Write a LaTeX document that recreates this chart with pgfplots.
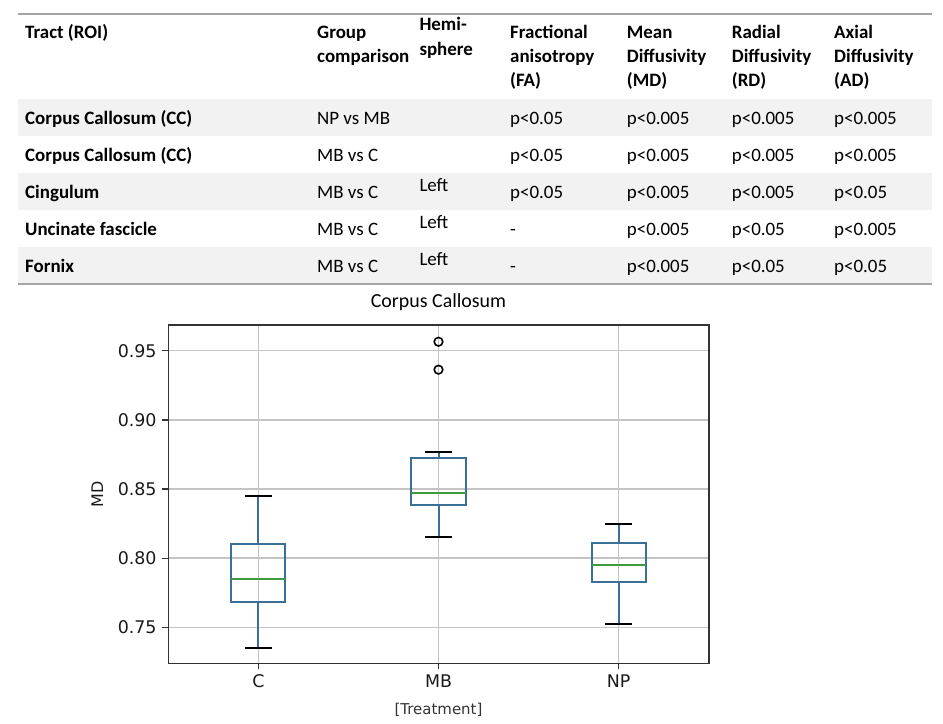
\documentclass[border=0pt]{standalone}
\usepackage{fontspec}
\setmainfont{Carlito}
\newfontfamily\dejavu{DejaVu Sans}
\usepackage{pgfplots}
\pgfplotsset{compat=1.18}
\usepgfplotslibrary{statistics}

\definecolor{rulegray}{HTML}{A5A5A5}
\definecolor{rowgray}{HTML}{F2F2F2}
\definecolor{mplblue}{HTML}{3A6F98}
\definecolor{mplgreen}{HTML}{3E9A3E}
\definecolor{gridgray}{HTML}{C4C4C4}
\definecolor{framegray}{HTML}{333333}

\newcommand{\tabfont}{\fontsize{19}{24}\selectfont}

% whiskers in blue, caps in black (pandas style)
\pgfplotsset{
  boxplot/draw/lower whisker/.code={%
    \draw[mplblue,line width=2bp]
      (boxplot box cs:\pgfplotsboxplotvalue{lower whisker},0.5) --
      (boxplot box cs:\pgfplotsboxplotvalue{lower quartile},0.5);
    \draw[black,line width=2bp]
      (boxplot whisker cs:\pgfplotsboxplotvalue{lower whisker},0) --
      (boxplot whisker cs:\pgfplotsboxplotvalue{lower whisker},1);
  },
  boxplot/draw/upper whisker/.code={%
    \draw[mplblue,line width=2bp]
      (boxplot box cs:\pgfplotsboxplotvalue{upper quartile},0.5) --
      (boxplot box cs:\pgfplotsboxplotvalue{upper whisker},0.5);
    \draw[black,line width=2bp]
      (boxplot whisker cs:\pgfplotsboxplotvalue{upper whisker},0) --
      (boxplot whisker cs:\pgfplotsboxplotvalue{upper whisker},1);
  },
}

\begin{document}
\begin{tikzpicture}
\useasboundingbox (0,0) rectangle (943bp,-724bp);

\begin{scope}[x=1bp,y=-1bp]
  % table background and rules
  \fill[rowgray] (18,99) rectangle (932,136);
  \fill[rowgray] (18,173) rectangle (932,210);
  \fill[rowgray] (18,247) rectangle (932,284);
  \draw[rulegray,line width=2bp] (18,14) -- (932,14);
  \draw[rulegray,line width=2bp] (18,284) -- (932,284);

  \begin{scope}[every node/.style={anchor=base west,inner sep=0pt,font=\tabfont}]
    % header
    \node at (25,38) {\bfseries Tract (ROI)};
    \node at (317,38) {\bfseries Group};
    \node at (317,62.3) {\bfseries comparison};
    \node at (419.3,30.7) {\bfseries Hemi-};
    \node at (419.3,55) {\bfseries sphere};
    \node at (510,38) {\bfseries Fractional};
    \node at (510,62.3) {\bfseries anisotropy};
    \node at (510,86.8) {\bfseries (FA)};
    \node at (626.7,38) {\bfseries Mean};
    \node at (626.7,62.3) {\bfseries Diffusivity};
    \node at (626.7,86.8) {\bfseries (MD)};
    \node at (731.7,38) {\bfseries Radial};
    \node at (731.7,62.3) {\bfseries Diffusivity};
    \node at (731.7,86.8) {\bfseries (RD)};
    \node at (834,38) {\bfseries Axial};
    \node at (834,62.3) {\bfseries Diffusivity};
    \node at (834,86.8) {\bfseries (AD)};
    % row 1
    \node at (25,124.3) {\bfseries Corpus Callosum (CC)};
    \node at (317,124.3) {NP vs MB};
    \node at (510,124.3) {p<0.05};
    \node at (626.7,124.3) {p<0.005};
    \node at (731.7,124.3) {p<0.005};
    \node at (834,124.3) {p<0.005};
    % row 2
    \node at (25,161.3) {\bfseries Corpus Callosum (CC)};
    \node at (317,161.3) {MB vs C};
    \node at (510,161.3) {p<0.05};
    \node at (626.7,161.3) {p<0.005};
    \node at (731.7,161.3) {p<0.005};
    \node at (834,161.3) {p<0.005};
    % row 3
    \node at (25,198.3) {\bfseries Cingulum};
    \node at (317,198.3) {MB vs C};
    \node at (419.3,191) {Left};
    \node at (510,198.3) {p<0.05};
    \node at (626.7,198.3) {p<0.005};
    \node at (731.7,198.3) {p<0.005};
    \node at (834,198.3) {p<0.05};
    % row 4
    \node at (25,235.3) {\bfseries Uncinate fascicle};
    \node at (317,235.3) {MB vs C};
    \node at (419.3,228) {Left};
    \node at (510,235.3) {-};
    \node at (626.7,235.3) {p<0.005};
    \node at (731.7,235.3) {p<0.05};
    \node at (834,235.3) {p<0.005};
    % row 5
    \node at (25,272.3) {\bfseries Fornix};
    \node at (317,272.3) {MB vs C};
    \node at (419.3,265) {Left};
    \node at (510,272.3) {-};
    \node at (626.7,272.3) {p<0.005};
    \node at (731.7,272.3) {p<0.05};
    \node at (834,272.3) {p<0.05};
  \end{scope}
\end{scope}

\begin{axis}[
    at={(168.3bp,-663.3bp)}, anchor=south west,
    width=540.4bp, height=338.3bp, scale only axis,
    xmin=0.5, xmax=3.5, ymin=0.724, ymax=0.9686,
    xtick={1,2,3}, xticklabels={C,MB,NP},
    ytick={0.75,0.80,0.85,0.90,0.95},
    yticklabels={0.75,0.80,0.85,0.90,0.95},
    xtick pos=bottom, ytick pos=left,
    tick align=outside, major tick length=6bp,
    tick style={framegray,line width=1.3bp},
    grid=major, major grid style={gridgray,line width=1.4bp},
    axis line style={framegray,line width=1.6bp},
    ticklabel style={font=\dejavu\fontsize{17.5}{20}\selectfont,text=black!90},
    xticklabel style={yshift=-1.7bp},
    yticklabel style={xshift=-2.2bp},
    title={Corpus Callosum},
    title style={font=\fontsize{20}{24}\selectfont,
      at={(axis description cs:0.5,1)},anchor=base,yshift=11.3bp},
    xlabel={[Treatment]},
    xlabel style={font=\dejavu\fontsize{15}{18}\selectfont,text=black!80,
      at={(axis description cs:0.5,0)},anchor=base,yshift=-51bp},
    ylabel={MD},
    ylabel style={font=\dejavu\fontsize{16}{19}\selectfont,text=black!90,
      at={(axis description cs:0,0.5)},anchor=center,yshift=71bp},
    boxplot/draw direction=y,
    boxplot/box extend=0.3,
    boxplot/whisker extend=0.15,
    boxplot/every box/.style={draw=mplblue,line width=2bp},
    boxplot/every median/.style={draw=mplgreen,line width=2bp},
]
% C
\addplot[black, mark=o, mark size=4.3bp, mark options={line width=1.6bp},
  boxplot prepared={draw position=1,
    lower whisker=0.7353, lower quartile=0.768, median=0.785,
    upper quartile=0.810, upper whisker=0.845}]
  coordinates {};
% MB (two outliers)
\addplot[black, mark=o, mark size=4.3bp, mark options={line width=1.6bp},
  boxplot prepared={draw position=2,
    lower whisker=0.8153, lower quartile=0.8382, median=0.8471,
    upper quartile=0.8722, upper whisker=0.8765}]
  coordinates {(2,0.9565) (2,0.9363)};
% NP
\addplot[black, mark=o, mark size=4.3bp, mark options={line width=1.6bp},
  boxplot prepared={draw position=3,
    lower whisker=0.7522, lower quartile=0.7828, median=0.7953,
    upper quartile=0.811, upper whisker=0.8245}]
  coordinates {};
\end{axis}
\end{tikzpicture}
\end{document}
